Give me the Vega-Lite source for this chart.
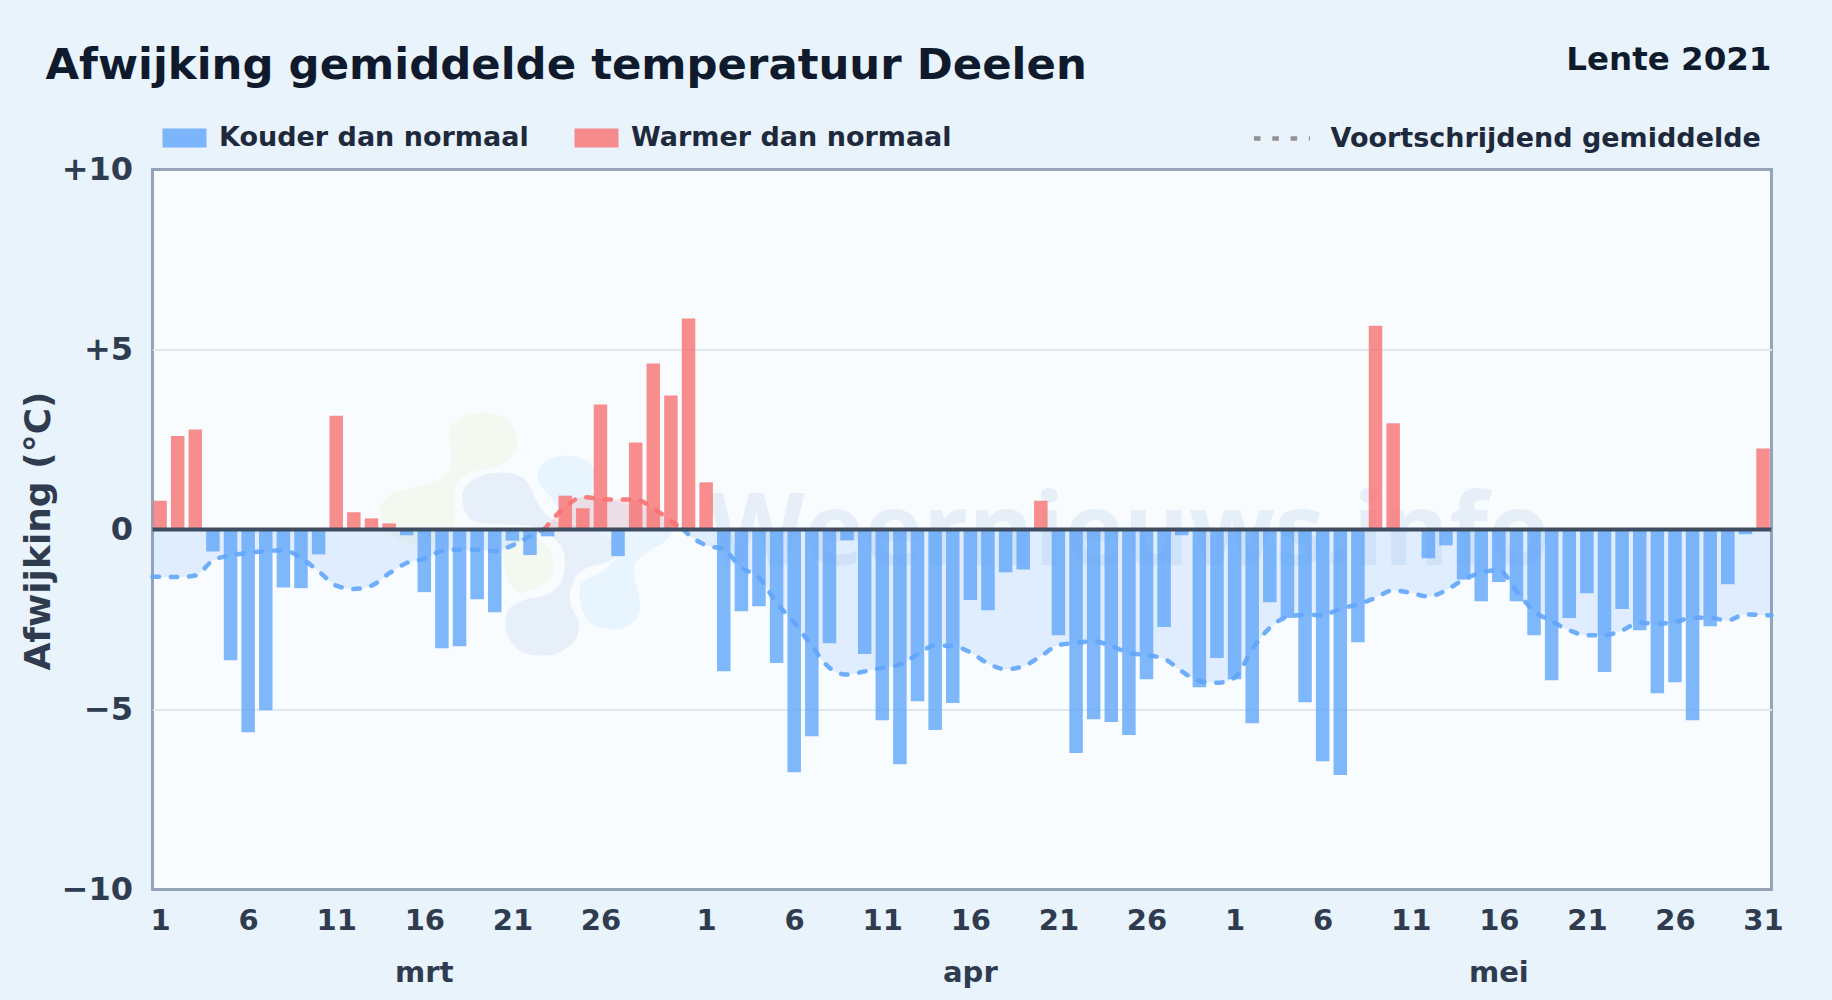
{"$schema":"https://vega.github.io/schema/vega-lite/v6.json","autosize":"none","width":1619,"height":720,"padding":{"left":152.5,"top":169.5,"right":60.5,"bottom":110.5},"background":"#e9f3fc","view":{"fill":"#f9fcff","stroke":"#94a3b8","strokeWidth":3},"title":{"text":"Afwijking gemiddelde temperatuur Deelen","anchor":"start","frame":"group","dx":-107,"offset":-45,"font":"DejaVu Sans","fontWeight":"bold","fontSize":43.4,"color":"#0f1b2d"},"config":{"font":"DejaVu Sans"},"datasets":{"dagen":[{"dag":1,"afwijking":0.8,"soort":"Warmer dan normaal"},{"dag":2,"afwijking":2.6,"soort":"Warmer dan normaal"},{"dag":3,"afwijking":2.78,"soort":"Warmer dan normaal"},{"dag":4,"afwijking":-0.61,"soort":"Kouder dan normaal"},{"dag":5,"afwijking":-3.63,"soort":"Kouder dan normaal"},{"dag":6,"afwijking":-5.63,"soort":"Kouder dan normaal"},{"dag":7,"afwijking":-5.02,"soort":"Kouder dan normaal"},{"dag":8,"afwijking":-1.61,"soort":"Kouder dan normaal"},{"dag":9,"afwijking":-1.63,"soort":"Kouder dan normaal"},{"dag":10,"afwijking":-0.69,"soort":"Kouder dan normaal"},{"dag":11,"afwijking":3.16,"soort":"Warmer dan normaal"},{"dag":12,"afwijking":0.48,"soort":"Warmer dan normaal"},{"dag":13,"afwijking":0.31,"soort":"Warmer dan normaal"},{"dag":14,"afwijking":0.17,"soort":"Warmer dan normaal"},{"dag":15,"afwijking":-0.16,"soort":"Kouder dan normaal"},{"dag":16,"afwijking":-1.74,"soort":"Kouder dan normaal"},{"dag":17,"afwijking":-3.3,"soort":"Kouder dan normaal"},{"dag":18,"afwijking":-3.24,"soort":"Kouder dan normaal"},{"dag":19,"afwijking":-1.94,"soort":"Kouder dan normaal"},{"dag":20,"afwijking":-2.3,"soort":"Kouder dan normaal"},{"dag":21,"afwijking":-0.31,"soort":"Kouder dan normaal"},{"dag":22,"afwijking":-0.71,"soort":"Kouder dan normaal"},{"dag":23,"afwijking":-0.19,"soort":"Kouder dan normaal"},{"dag":24,"afwijking":0.94,"soort":"Warmer dan normaal"},{"dag":25,"afwijking":0.59,"soort":"Warmer dan normaal"},{"dag":26,"afwijking":3.47,"soort":"Warmer dan normaal"},{"dag":27,"afwijking":-0.74,"soort":"Kouder dan normaal"},{"dag":28,"afwijking":2.42,"soort":"Warmer dan normaal"},{"dag":29,"afwijking":4.61,"soort":"Warmer dan normaal"},{"dag":30,"afwijking":3.72,"soort":"Warmer dan normaal"},{"dag":31,"afwijking":5.86,"soort":"Warmer dan normaal"},{"dag":32,"afwijking":1.31,"soort":"Warmer dan normaal"},{"dag":33,"afwijking":-3.94,"soort":"Kouder dan normaal"},{"dag":34,"afwijking":-2.27,"soort":"Kouder dan normaal"},{"dag":35,"afwijking":-2.13,"soort":"Kouder dan normaal"},{"dag":36,"afwijking":-3.71,"soort":"Kouder dan normaal"},{"dag":37,"afwijking":-6.74,"soort":"Kouder dan normaal"},{"dag":38,"afwijking":-5.74,"soort":"Kouder dan normaal"},{"dag":39,"afwijking":-3.16,"soort":"Kouder dan normaal"},{"dag":40,"afwijking":-0.3,"soort":"Kouder dan normaal"},{"dag":41,"afwijking":-3.46,"soort":"Kouder dan normaal"},{"dag":42,"afwijking":-5.3,"soort":"Kouder dan normaal"},{"dag":43,"afwijking":-6.52,"soort":"Kouder dan normaal"},{"dag":44,"afwijking":-4.77,"soort":"Kouder dan normaal"},{"dag":45,"afwijking":-5.57,"soort":"Kouder dan normaal"},{"dag":46,"afwijking":-4.82,"soort":"Kouder dan normaal"},{"dag":47,"afwijking":-1.96,"soort":"Kouder dan normaal"},{"dag":48,"afwijking":-2.24,"soort":"Kouder dan normaal"},{"dag":49,"afwijking":-1.19,"soort":"Kouder dan normaal"},{"dag":50,"afwijking":-1.11,"soort":"Kouder dan normaal"},{"dag":51,"afwijking":0.8,"soort":"Warmer dan normaal"},{"dag":52,"afwijking":-2.94,"soort":"Kouder dan normaal"},{"dag":53,"afwijking":-6.21,"soort":"Kouder dan normaal"},{"dag":54,"afwijking":-5.27,"soort":"Kouder dan normaal"},{"dag":55,"afwijking":-5.35,"soort":"Kouder dan normaal"},{"dag":56,"afwijking":-5.71,"soort":"Kouder dan normaal"},{"dag":57,"afwijking":-4.16,"soort":"Kouder dan normaal"},{"dag":58,"afwijking":-2.71,"soort":"Kouder dan normaal"},{"dag":59,"afwijking":-0.16,"soort":"Kouder dan normaal"},{"dag":60,"afwijking":-4.38,"soort":"Kouder dan normaal"},{"dag":61,"afwijking":-3.57,"soort":"Kouder dan normaal"},{"dag":62,"afwijking":-4.16,"soort":"Kouder dan normaal"},{"dag":63,"afwijking":-5.38,"soort":"Kouder dan normaal"},{"dag":64,"afwijking":-2.02,"soort":"Kouder dan normaal"},{"dag":65,"afwijking":-2.46,"soort":"Kouder dan normaal"},{"dag":66,"afwijking":-4.8,"soort":"Kouder dan normaal"},{"dag":67,"afwijking":-6.44,"soort":"Kouder dan normaal"},{"dag":68,"afwijking":-6.82,"soort":"Kouder dan normaal"},{"dag":69,"afwijking":-3.13,"soort":"Kouder dan normaal"},{"dag":70,"afwijking":5.66,"soort":"Warmer dan normaal"},{"dag":71,"afwijking":2.95,"soort":"Warmer dan normaal"},{"dag":72,"afwijking":0,"soort":"Warmer dan normaal"},{"dag":73,"afwijking":-0.8,"soort":"Kouder dan normaal"},{"dag":74,"afwijking":-0.44,"soort":"Kouder dan normaal"},{"dag":75,"afwijking":-1.39,"soort":"Kouder dan normaal"},{"dag":76,"afwijking":-1.99,"soort":"Kouder dan normaal"},{"dag":77,"afwijking":-1.46,"soort":"Kouder dan normaal"},{"dag":78,"afwijking":-1.99,"soort":"Kouder dan normaal"},{"dag":79,"afwijking":-2.94,"soort":"Kouder dan normaal"},{"dag":80,"afwijking":-4.19,"soort":"Kouder dan normaal"},{"dag":81,"afwijking":-2.46,"soort":"Kouder dan normaal"},{"dag":82,"afwijking":-1.77,"soort":"Kouder dan normaal"},{"dag":83,"afwijking":-3.96,"soort":"Kouder dan normaal"},{"dag":84,"afwijking":-2.21,"soort":"Kouder dan normaal"},{"dag":85,"afwijking":-2.8,"soort":"Kouder dan normaal"},{"dag":86,"afwijking":-4.55,"soort":"Kouder dan normaal"},{"dag":87,"afwijking":-4.24,"soort":"Kouder dan normaal"},{"dag":88,"afwijking":-5.3,"soort":"Kouder dan normaal"},{"dag":89,"afwijking":-2.69,"soort":"Kouder dan normaal"},{"dag":90,"afwijking":-1.52,"soort":"Kouder dan normaal"},{"dag":91,"afwijking":-0.13,"soort":"Kouder dan normaal"},{"dag":92,"afwijking":2.25,"soort":"Warmer dan normaal"}],"gemiddelde":[{"dag":0.57,"afwijking":-1.31,"soort":"Kouder dan normaal","segment":"a","lijn":"Voortschrijdend gemiddelde"},{"dag":2,"afwijking":-1.32,"soort":"Kouder dan normaal","segment":"a","lijn":"Voortschrijdend gemiddelde"},{"dag":3,"afwijking":-1.28,"soort":"Kouder dan normaal","segment":"a","lijn":"Voortschrijdend gemiddelde"},{"dag":4,"afwijking":-0.86,"soort":"Kouder dan normaal","segment":"a","lijn":"Voortschrijdend gemiddelde"},{"dag":5,"afwijking":-0.72,"soort":"Kouder dan normaal","segment":"a","lijn":"Voortschrijdend gemiddelde"},{"dag":6,"afwijking":-0.65,"soort":"Kouder dan normaal","segment":"a","lijn":"Voortschrijdend gemiddelde"},{"dag":7,"afwijking":-0.6,"soort":"Kouder dan normaal","segment":"a","lijn":"Voortschrijdend gemiddelde"},{"dag":8,"afwijking":-0.58,"soort":"Kouder dan normaal","segment":"a","lijn":"Voortschrijdend gemiddelde"},{"dag":9,"afwijking":-0.79,"soort":"Kouder dan normaal","segment":"a","lijn":"Voortschrijdend gemiddelde"},{"dag":10,"afwijking":-1.16,"soort":"Kouder dan normaal","segment":"a","lijn":"Voortschrijdend gemiddelde"},{"dag":11,"afwijking":-1.56,"soort":"Kouder dan normaal","segment":"a","lijn":"Voortschrijdend gemiddelde"},{"dag":12,"afwijking":-1.65,"soort":"Kouder dan normaal","segment":"a","lijn":"Voortschrijdend gemiddelde"},{"dag":13,"afwijking":-1.56,"soort":"Kouder dan normaal","segment":"a","lijn":"Voortschrijdend gemiddelde"},{"dag":14,"afwijking":-1.22,"soort":"Kouder dan normaal","segment":"a","lijn":"Voortschrijdend gemiddelde"},{"dag":15,"afwijking":-0.93,"soort":"Kouder dan normaal","segment":"a","lijn":"Voortschrijdend gemiddelde"},{"dag":16,"afwijking":-0.81,"soort":"Kouder dan normaal","segment":"a","lijn":"Voortschrijdend gemiddelde"},{"dag":17,"afwijking":-0.6,"soort":"Kouder dan normaal","segment":"a","lijn":"Voortschrijdend gemiddelde"},{"dag":18,"afwijking":-0.56,"soort":"Kouder dan normaal","segment":"a","lijn":"Voortschrijdend gemiddelde"},{"dag":19,"afwijking":-0.56,"soort":"Kouder dan normaal","segment":"a","lijn":"Voortschrijdend gemiddelde"},{"dag":20,"afwijking":-0.6,"soort":"Kouder dan normaal","segment":"a","lijn":"Voortschrijdend gemiddelde"},{"dag":21,"afwijking":-0.44,"soort":"Kouder dan normaal","segment":"a","lijn":"Voortschrijdend gemiddelde"},{"dag":22,"afwijking":-0.19,"soort":"Kouder dan normaal","segment":"a","lijn":"Voortschrijdend gemiddelde"},{"dag":22.8,"afwijking":0,"soort":"Kouder dan normaal","segment":"a","lijn":"Voortschrijdend gemiddelde"},{"dag":22.8,"afwijking":0,"soort":"Warmer dan normaal","segment":"b","lijn":"Voortschrijdend gemiddelde"},{"dag":24,"afwijking":0.63,"soort":"Warmer dan normaal","segment":"b","lijn":"Voortschrijdend gemiddelde"},{"dag":25,"afwijking":0.9,"soort":"Warmer dan normaal","segment":"b","lijn":"Voortschrijdend gemiddelde"},{"dag":26,"afwijking":0.85,"soort":"Warmer dan normaal","segment":"b","lijn":"Voortschrijdend gemiddelde"},{"dag":27,"afwijking":0.83,"soort":"Warmer dan normaal","segment":"b","lijn":"Voortschrijdend gemiddelde"},{"dag":28,"afwijking":0.83,"soort":"Warmer dan normaal","segment":"b","lijn":"Voortschrijdend gemiddelde"},{"dag":29,"afwijking":0.59,"soort":"Warmer dan normaal","segment":"b","lijn":"Voortschrijdend gemiddelde"},{"dag":30,"afwijking":0.24,"soort":"Warmer dan normaal","segment":"b","lijn":"Voortschrijdend gemiddelde"},{"dag":30.7,"afwijking":0,"soort":"Warmer dan normaal","segment":"b","lijn":"Voortschrijdend gemiddelde"},{"dag":30.7,"afwijking":0,"soort":"Kouder dan normaal","segment":"c","lijn":"Voortschrijdend gemiddelde"},{"dag":31,"afwijking":-0.14,"soort":"Kouder dan normaal","segment":"c","lijn":"Voortschrijdend gemiddelde"},{"dag":32,"afwijking":-0.44,"soort":"Kouder dan normaal","segment":"c","lijn":"Voortschrijdend gemiddelde"},{"dag":33,"afwijking":-0.56,"soort":"Kouder dan normaal","segment":"c","lijn":"Voortschrijdend gemiddelde"},{"dag":34,"afwijking":-1.06,"soort":"Kouder dan normaal","segment":"c","lijn":"Voortschrijdend gemiddelde"},{"dag":35,"afwijking":-1.34,"soort":"Kouder dan normaal","segment":"c","lijn":"Voortschrijdend gemiddelde"},{"dag":36,"afwijking":-2.04,"soort":"Kouder dan normaal","segment":"c","lijn":"Voortschrijdend gemiddelde"},{"dag":37,"afwijking":-2.59,"soort":"Kouder dan normaal","segment":"c","lijn":"Voortschrijdend gemiddelde"},{"dag":38,"afwijking":-3.24,"soort":"Kouder dan normaal","segment":"c","lijn":"Voortschrijdend gemiddelde"},{"dag":39,"afwijking":-3.84,"soort":"Kouder dan normaal","segment":"c","lijn":"Voortschrijdend gemiddelde"},{"dag":40,"afwijking":-4.03,"soort":"Kouder dan normaal","segment":"c","lijn":"Voortschrijdend gemiddelde"},{"dag":41,"afwijking":-3.94,"soort":"Kouder dan normaal","segment":"c","lijn":"Voortschrijdend gemiddelde"},{"dag":42,"afwijking":-3.84,"soort":"Kouder dan normaal","segment":"c","lijn":"Voortschrijdend gemiddelde"},{"dag":43,"afwijking":-3.75,"soort":"Kouder dan normaal","segment":"c","lijn":"Voortschrijdend gemiddelde"},{"dag":44,"afwijking":-3.47,"soort":"Kouder dan normaal","segment":"c","lijn":"Voortschrijdend gemiddelde"},{"dag":45,"afwijking":-3.22,"soort":"Kouder dan normaal","segment":"c","lijn":"Voortschrijdend gemiddelde"},{"dag":46,"afwijking":-3.24,"soort":"Kouder dan normaal","segment":"c","lijn":"Voortschrijdend gemiddelde"},{"dag":47,"afwijking":-3.41,"soort":"Kouder dan normaal","segment":"c","lijn":"Voortschrijdend gemiddelde"},{"dag":48,"afwijking":-3.72,"soort":"Kouder dan normaal","segment":"c","lijn":"Voortschrijdend gemiddelde"},{"dag":49,"afwijking":-3.88,"soort":"Kouder dan normaal","segment":"c","lijn":"Voortschrijdend gemiddelde"},{"dag":50,"afwijking":-3.8,"soort":"Kouder dan normaal","segment":"c","lijn":"Voortschrijdend gemiddelde"},{"dag":51,"afwijking":-3.52,"soort":"Kouder dan normaal","segment":"c","lijn":"Voortschrijdend gemiddelde"},{"dag":52,"afwijking":-3.21,"soort":"Kouder dan normaal","segment":"c","lijn":"Voortschrijdend gemiddelde"},{"dag":53,"afwijking":-3.15,"soort":"Kouder dan normaal","segment":"c","lijn":"Voortschrijdend gemiddelde"},{"dag":54,"afwijking":-3.1,"soort":"Kouder dan normaal","segment":"c","lijn":"Voortschrijdend gemiddelde"},{"dag":55,"afwijking":-3.24,"soort":"Kouder dan normaal","segment":"c","lijn":"Voortschrijdend gemiddelde"},{"dag":56,"afwijking":-3.43,"soort":"Kouder dan normaal","segment":"c","lijn":"Voortschrijdend gemiddelde"},{"dag":57,"afwijking":-3.49,"soort":"Kouder dan normaal","segment":"c","lijn":"Voortschrijdend gemiddelde"},{"dag":58,"afwijking":-3.59,"soort":"Kouder dan normaal","segment":"c","lijn":"Voortschrijdend gemiddelde"},{"dag":59,"afwijking":-3.94,"soort":"Kouder dan normaal","segment":"c","lijn":"Voortschrijdend gemiddelde"},{"dag":60,"afwijking":-4.21,"soort":"Kouder dan normaal","segment":"c","lijn":"Voortschrijdend gemiddelde"},{"dag":61,"afwijking":-4.26,"soort":"Kouder dan normaal","segment":"c","lijn":"Voortschrijdend gemiddelde"},{"dag":62,"afwijking":-4.12,"soort":"Kouder dan normaal","segment":"c","lijn":"Voortschrijdend gemiddelde"},{"dag":63,"afwijking":-3.33,"soort":"Kouder dan normaal","segment":"c","lijn":"Voortschrijdend gemiddelde"},{"dag":64,"afwijking":-2.73,"soort":"Kouder dan normaal","segment":"c","lijn":"Voortschrijdend gemiddelde"},{"dag":65,"afwijking":-2.43,"soort":"Kouder dan normaal","segment":"c","lijn":"Voortschrijdend gemiddelde"},{"dag":66,"afwijking":-2.37,"soort":"Kouder dan normaal","segment":"c","lijn":"Voortschrijdend gemiddelde"},{"dag":67,"afwijking":-2.38,"soort":"Kouder dan normaal","segment":"c","lijn":"Voortschrijdend gemiddelde"},{"dag":68,"afwijking":-2.2,"soort":"Kouder dan normaal","segment":"c","lijn":"Voortschrijdend gemiddelde"},{"dag":69,"afwijking":-2.08,"soort":"Kouder dan normaal","segment":"c","lijn":"Voortschrijdend gemiddelde"},{"dag":70,"afwijking":-1.9,"soort":"Kouder dan normaal","segment":"c","lijn":"Voortschrijdend gemiddelde"},{"dag":71,"afwijking":-1.69,"soort":"Kouder dan normaal","segment":"c","lijn":"Voortschrijdend gemiddelde"},{"dag":72,"afwijking":-1.76,"soort":"Kouder dan normaal","segment":"c","lijn":"Voortschrijdend gemiddelde"},{"dag":73,"afwijking":-1.86,"soort":"Kouder dan normaal","segment":"c","lijn":"Voortschrijdend gemiddelde"},{"dag":74,"afwijking":-1.69,"soort":"Kouder dan normaal","segment":"c","lijn":"Voortschrijdend gemiddelde"},{"dag":75,"afwijking":-1.39,"soort":"Kouder dan normaal","segment":"c","lijn":"Voortschrijdend gemiddelde"},{"dag":76,"afwijking":-1.2,"soort":"Kouder dan normaal","segment":"c","lijn":"Voortschrijdend gemiddelde"},{"dag":77,"afwijking":-1.13,"soort":"Kouder dan normaal","segment":"c","lijn":"Voortschrijdend gemiddelde"},{"dag":78,"afwijking":-1.71,"soort":"Kouder dan normaal","segment":"c","lijn":"Voortschrijdend gemiddelde"},{"dag":79,"afwijking":-2.27,"soort":"Kouder dan normaal","segment":"c","lijn":"Voortschrijdend gemiddelde"},{"dag":80,"afwijking":-2.55,"soort":"Kouder dan normaal","segment":"c","lijn":"Voortschrijdend gemiddelde"},{"dag":81,"afwijking":-2.8,"soort":"Kouder dan normaal","segment":"c","lijn":"Voortschrijdend gemiddelde"},{"dag":82,"afwijking":-2.94,"soort":"Kouder dan normaal","segment":"c","lijn":"Voortschrijdend gemiddelde"},{"dag":83,"afwijking":-2.94,"soort":"Kouder dan normaal","segment":"c","lijn":"Voortschrijdend gemiddelde"},{"dag":84,"afwijking":-2.8,"soort":"Kouder dan normaal","segment":"c","lijn":"Voortschrijdend gemiddelde"},{"dag":85,"afwijking":-2.59,"soort":"Kouder dan normaal","segment":"c","lijn":"Voortschrijdend gemiddelde"},{"dag":86,"afwijking":-2.62,"soort":"Kouder dan normaal","segment":"c","lijn":"Voortschrijdend gemiddelde"},{"dag":87,"afwijking":-2.57,"soort":"Kouder dan normaal","segment":"c","lijn":"Voortschrijdend gemiddelde"},{"dag":88,"afwijking":-2.45,"soort":"Kouder dan normaal","segment":"c","lijn":"Voortschrijdend gemiddelde"},{"dag":89,"afwijking":-2.46,"soort":"Kouder dan normaal","segment":"c","lijn":"Voortschrijdend gemiddelde"},{"dag":90,"afwijking":-2.52,"soort":"Kouder dan normaal","segment":"c","lijn":"Voortschrijdend gemiddelde"},{"dag":91,"afwijking":-2.36,"soort":"Kouder dan normaal","segment":"c","lijn":"Voortschrijdend gemiddelde"},{"dag":92.48,"afwijking":-2.39,"soort":"Kouder dan normaal","segment":"c","lijn":"Voortschrijdend gemiddelde"}]},"encoding":{"x":{"field":"dag","type":"quantitative","scale":{"domain":[0.57,92.48],"nice":false,"zero":false,"padding":0},"axis":{"title":null,"values":[1,6,11,16,21,26,32,37,42,47,52,57,62,67,72,77,82,87,92],"labelExpr":"datum.value<=31?datum.value:(datum.value<=61?datum.value-31:datum.value-61)","domain":false,"ticks":false,"grid":false,"labelFlush":false,"labelPadding":17,"labelFontSize":29,"labelFontWeight":"bold","labelColor":"#2f3c50","labelFont":"DejaVu Sans"}},"y":{"field":"afwijking","type":"quantitative","stack":null,"scale":{"domain":[-10,10],"nice":false},"axis":{"title":"Afwijking (°C)","titleFontSize":36,"titleFontWeight":"bold","titleColor":"#2f3c50","titleFont":"DejaVu Sans","titleX":-114,"titleY":361,"titleAngle":-90,"titleAlign":"center","titleBaseline":"middle","values":[-10,-5,0,5,10],"labelExpr":"datum.value>0?'+'+datum.value:(datum.value<0?'−'+abs(datum.value):'0')","domain":false,"ticks":false,"grid":true,"gridColor":{"condition":{"test":"abs(datum.value)==10","value":"transparent"},"value":"#e2e8f0"},"gridWidth":2,"labelPadding":20,"labelFontSize":32,"labelFontWeight":"bold","labelColor":"#2f3c50","labelFont":"DejaVu Sans","labelBaseline":"middle"}}},"layer":[{"data":{"values":[{"dag":21.85,"afwijking":-0.08}]},"mark":{"type":"point","filled":true,"opacity":1,"size":4,"fill":"#f3f9f1","stroke":null,"shape":"M-78,-100 C-78,-112 -60,-120 -43,-120 C-25,-120 -10,-110 -10,-90 C-10,-75 -25,-65 -43,-63 C-60,-61 -73,-55 -73,-35 C-73,-20 -70,-5 -80,13 C-100,15 -147,15 -147,-23 C-147,-38 -125,-43 -110,-46 C-95,-49 -76,-55 -76,-72 C-76,-85 -78,-90 -78,-100 Z M5,3 C20,10 28,22 27,35 C26,50 8,60 -10,60 C-22,50 -25,30 -25,13 C-15,8 -5,3 5,3 Z"}},{"data":{"values":[{"dag":21.85,"afwijking":-0.08}]},"mark":{"type":"point","filled":true,"opacity":1,"size":4,"fill":"#e9f5fe","stroke":null,"shape":"M10,-57 C10,-68 25,-77 37,-77 C52,-77 65,-72 67,-60 C68,-50 62,-42 67,-37 C75,-30 110,-30 133,-20 C142,-12 147,-3 143,3 C138,12 125,15 120,20 C108,28 105,32 107,40 C108,52 113,62 113,73 C113,88 100,97 87,97 C75,97 62,92 60,87 C54,78 52,68 52,60 C52,50 58,47 63,45 C75,40 85,32 90,23 C70,5 50,-5 47,-10 C38,-18 30,-25 27,-30 C20,-42 10,-47 10,-57 Z"}},{"data":{"values":[{"dag":21.85,"afwijking":-0.08}]},"mark":{"type":"point","filled":true,"opacity":1,"size":4,"fill":"#e7eff8","stroke":null,"shape":"M-65,-37 C-65,-50 -45,-60 -27,-60 C-12,-60 -3,-55 0,-50 C6,-42 6,-36 10,-30 C16,-18 25,-12 33,-10 C48,-6 60,-8 67,-3 C80,5 92,12 90,20 C88,28 78,31 67,33 C58,35 50,40 47,47 C43,55 42,62 43,70 C44,78 52,85 52,93 C52,105 46,112 37,117 C30,122 22,123 13,123 C3,123 -8,120 -13,113 C-20,106 -22,98 -22,90 C-22,80 -18,74 -10,70 C0,65 10,66 20,62 C30,58 36,48 37,37 C38,28 38,20 33,13 C28,6 22,0 13,-3 C0,-8 -10,-7 -23,-8 C-35,-9 -48,-8 -57,-13 C-63,-18 -65,-27 -65,-37 Z"}},{"data":{"values":[{"dag":32.1,"afwijking":0,"merk":"Weernieuws.info"}]},"mark":{"type":"text","align":"left","baseline":"alphabetic","font":"Open Sans","fontWeight":"bold","fontSize":100,"color":"#e6eff8","dy":35},"encoding":{"text":{"field":"merk","type":"nominal"}}},{"data":{"name":"gemiddelde"},"mark":{"type":"area","interpolate":"monotone","opacity":0.17},"encoding":{"y2":{"datum":0},"fill":{"field":"soort","type":"nominal","scale":{"domain":["Kouder dan normaal","Warmer dan normaal"],"range":["#60a5fa","#f87171"]},"legend":{"title":null,"orient":"none","legendX":10,"legendY":-53.5,"direction":"horizontal","columns":2,"columnPadding":45,"symbolType":"M-1,-0.43H1V0.43H-1Z","symbolSize":1936,"symbolOpacity":0.8,"symbolStrokeWidth":0,"labelOffset":12.5,"labelFontSize":27,"labelFontWeight":"bold","labelColor":"#1e293b","labelFont":"DejaVu Sans","labelLimit":500}},"detail":{"field":"segment"}}},{"data":{"name":"dagen"},"mark":{"type":"bar","size":13.5,"opacity":0.8,"orient":"vertical"},"encoding":{"fill":{"field":"soort","type":"nominal","scale":{"domain":["Kouder dan normaal","Warmer dan normaal"],"range":["#60a5fa","#f87171"]},"legend":{"title":null,"orient":"none","legendX":10,"legendY":-53.5,"direction":"horizontal","columns":2,"columnPadding":45,"symbolType":"M-1,-0.43H1V0.43H-1Z","symbolSize":1936,"symbolOpacity":0.8,"symbolStrokeWidth":0,"labelOffset":12.5,"labelFontSize":27,"labelFontWeight":"bold","labelColor":"#1e293b","labelFont":"DejaVu Sans","labelLimit":500}}}},{"data":{"name":"gemiddelde"},"mark":{"type":"line","interpolate":"monotone","strokeWidth":4.5,"strokeCap":"round","opacity":0.9},"encoding":{"stroke":{"field":"soort","type":"nominal","scale":{"domain":["Kouder dan normaal","Warmer dan normaal"],"range":["#60a5fa","#f87171"]},"legend":null},"strokeDash":{"field":"lijn","type":"nominal","scale":{"domain":["Voortschrijdend gemiddelde"],"range":[[6.5,11.8]]},"legend":{"title":null,"orient":"none","legendX":1099,"legendY":-61.5,"symbolType":"stroke","symbolSize":3136,"symbolStrokeWidth":4.5,"labelOffset":18,"labelFontSize":27,"labelFontWeight":"bold","labelColor":"#1e293b","labelFont":"DejaVu Sans","labelLimit":600,"encode":{"symbols":{"update":{"stroke":{"value":"#5b6b82"},"strokeDash":{"value":[4.5,12.6]},"strokeCap":{"value":"butt"},"opacity":{"value":1}}}}}},"detail":{"field":"segment"}}},{"data":{"values":[{"dag":0.57,"eind":92.48,"afwijking":0}]},"mark":{"type":"rule","color":"#3f4d62","strokeWidth":4},"encoding":{"x2":{"field":"eind"}}},{"data":{"values":[{"dag":16,"afwijking":-10,"maand":"mrt"},{"dag":47,"afwijking":-10,"maand":"apr"},{"dag":77,"afwijking":-10,"maand":"mei"}]},"mark":{"type":"text","align":"center","baseline":"alphabetic","fontWeight":"bold","fontSize":29,"color":"#2f3c50","dy":92},"encoding":{"text":{"field":"maand","type":"nominal"}}},{"data":{"values":[{"dag":92.48,"afwijking":10,"tekst":"Lente 2021"}]},"mark":{"type":"text","align":"right","baseline":"alphabetic","fontWeight":"bold","fontSize":32.5,"color":"#0f1b2d","dy":-100},"encoding":{"text":{"field":"tekst","type":"nominal"}}}]}
